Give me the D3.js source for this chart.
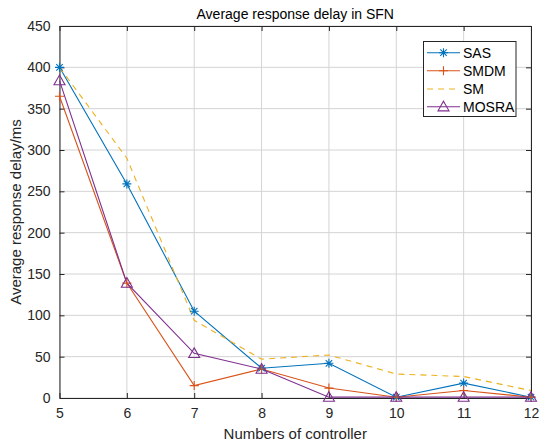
<!DOCTYPE html>
<html>
<head>
<meta charset="utf-8">
<script src="https://cdn.jsdelivr.net/npm/d3@7"></script>
<style>
  body { margin: 0; background: #fff; }
  svg { display: block; font-family: Arial, "Liberation Sans", Helvetica, sans-serif; }
</style>
</head>
<body>
<svg id="chart" width="539" height="446"></svg>
<script>
// ---- data ----
const xValues = [5, 6, 7, 8, 9, 10, 11, 12];
const sasValues   = [400, 259, 105, 36, 42, 1, 18, 1];
const smdmValues  = [365, 139, 15, 35, 12, 1, 9, 1];
const smValues    = [400, 290, 94, 47, 52, 29, 26, 9];
const mosraValues = [384, 139, 54, 35, 1, 1, 1, 1];
const seriesNames = ["SAS", "SMDM", "SM", "MOSRA"];
const xTicks = [5, 6, 7, 8, 9, 10, 11, 12];
const yTicks = [0, 50, 100, 150, 200, 250, 300, 350, 400, 450];
const titleText = "Average response delay in SFN";
const xLabelText = "Numbers of controller";
const yLabelText = "Average response delay/ms";

const series = [
  { name: seriesNames[0], values: sasValues,   color: "#0072BD", marker: "star",     dash: null },
  { name: seriesNames[1], values: smdmValues,  color: "#D95319", marker: "plus",     dash: null },
  { name: seriesNames[2], values: smValues,    color: "#EDB120", marker: "none",     dash: "6,5" },
  { name: seriesNames[3], values: mosraValues, color: "#7E2F8E", marker: "triangle", dash: null }
];

const svg = d3.select("#chart");
const m = { left: 59.5, right: 531, top: 26, bottom: 398 };
const x = d3.scaleLinear().domain([5, 12]).range([m.left, m.right]);
const y = d3.scaleLinear().domain([0, 450]).range([m.bottom, m.top]);

// grid
const g = svg.append("g");
g.selectAll(".vg").data(xTicks).enter().append("line")
  .attr("x1", d => x(d)).attr("x2", d => x(d))
  .attr("y1", m.top).attr("y2", m.bottom)
  .attr("stroke", "#d4d4d4").attr("stroke-width", 1);
g.selectAll(".hg").data(yTicks).enter().append("line")
  .attr("x1", m.left).attr("x2", m.right)
  .attr("y1", d => y(d)).attr("y2", d => y(d))
  .attr("stroke", "#d4d4d4").attr("stroke-width", 1);

// axes
const tickLen = 5;
const fmt = d3.format("d");
const xAxisB = d3.axisBottom(x).tickValues(xTicks).tickFormat(fmt).tickSizeInner(-tickLen).tickSizeOuter(0).tickPadding(10);
const xAxisT = d3.axisTop(x).tickValues(xTicks).tickSizeInner(-tickLen).tickSizeOuter(0).tickFormat("");
const yAxisL = d3.axisLeft(y).tickValues(yTicks).tickFormat(fmt).tickSizeInner(-tickLen).tickSizeOuter(0).tickPadding(9);
const yAxisR = d3.axisRight(y).tickValues(yTicks).tickSizeInner(-tickLen).tickSizeOuter(0).tickFormat("");

function styleAxis(sel) {
  sel.select(".domain").attr("stroke", "#262626").attr("stroke-width", 1);
  sel.selectAll(".tick line").attr("stroke", "#262626");
  sel.selectAll(".tick text").attr("fill", "#262626").style("font-size", "14px")
     .style("font-family", "Arial, 'Liberation Sans', sans-serif");
}
svg.append("g").attr("transform", `translate(0,${m.bottom})`).call(xAxisB).call(styleAxis);
svg.append("g").attr("transform", `translate(0,${m.top})`).call(xAxisT).call(styleAxis);
svg.append("g").attr("transform", `translate(${m.left},0)`).call(yAxisL).call(styleAxis);
svg.append("g").attr("transform", `translate(${m.right},0)`).call(yAxisR).call(styleAxis);

// lines
const line = d3.line().x((d, i) => x(xValues[i])).y(d => y(d));
const plot = svg.append("g");
series.forEach(s => {
  plot.append("path").datum(s.values)
    .attr("d", line).attr("fill", "none")
    .attr("stroke", s.color).attr("stroke-width", 1.1)
    .attr("stroke-dasharray", s.dash);
});

function drawMarker(sel, type, cx, cy, color) {
  const r = 4.5;
  if (type === "star") {
    const path = `M${cx - r},${cy}L${cx + r},${cy}M${cx},${cy - r}L${cx},${cy + r}` +
      `M${cx - r * 0.72},${cy - r * 0.72}L${cx + r * 0.72},${cy + r * 0.72}` +
      `M${cx - r * 0.72},${cy + r * 0.72}L${cx + r * 0.72},${cy - r * 0.72}`;
    sel.append("path").attr("d", path).attr("stroke", color).attr("stroke-width", 1.1).attr("fill", "none");
  } else if (type === "plus") {
    const path = `M${cx - r},${cy}L${cx + r},${cy}M${cx},${cy - r}L${cx},${cy + r}`;
    sel.append("path").attr("d", path).attr("stroke", color).attr("stroke-width", 1.1).attr("fill", "none");
  } else if (type === "triangle") {
    const rt = 5.5;
    const path = `M${cx},${cy - rt}L${cx + rt},${cy + rt * 0.75}L${cx - rt},${cy + rt * 0.75}Z`;
    sel.append("path").attr("d", path).attr("stroke", color).attr("stroke-width", 1.1).attr("fill", "none");
  }
}

series.forEach(s => {
  if (s.marker === "none") return;
  const mg = plot.append("g");
  s.values.forEach((v, i) => drawMarker(mg, s.marker, x(xValues[i]), y(v), s.color));
});

// title and labels
svg.append("text").attr("x", (m.left + m.right) / 2).attr("y", 19)
  .attr("text-anchor", "middle").style("font-size", "14px").attr("fill", "#000")
  .text(titleText);
svg.append("text").attr("x", (m.left + m.right) / 2).attr("y", 439)
  .attr("text-anchor", "middle").style("font-size", "15px").attr("fill", "#262626")
  .text(xLabelText);
svg.append("text").attr("transform", `translate(21,${(m.top + m.bottom) / 2}) rotate(-90)`)
  .attr("text-anchor", "middle").style("font-size", "15px").attr("fill", "#262626")
  .text(yLabelText);

// legend
const lg = svg.append("g");
lg.append("rect").attr("x", 423.5).attr("y", 41.5).attr("width", 92.5).attr("height", 75)
  .attr("fill", "#fff").attr("stroke", "#262626").attr("stroke-width", 1);
const rows = [52.7, 70.7, 89, 106.7];
series.forEach((s, i) => {
  const ly = rows[i];
  lg.append("line").attr("x1", 427).attr("x2", 460).attr("y1", ly).attr("y2", ly)
    .attr("stroke", s.color).attr("stroke-width", 1.1).attr("stroke-dasharray", s.dash);
  if (s.marker !== "none") drawMarker(lg, s.marker, 443.5, ly, s.color);
  lg.append("text").attr("x", 463).attr("y", ly + 5).style("font-size", "14px")
    .attr("fill", "#000").text(s.name);
});
</script>
</body>
</html>
